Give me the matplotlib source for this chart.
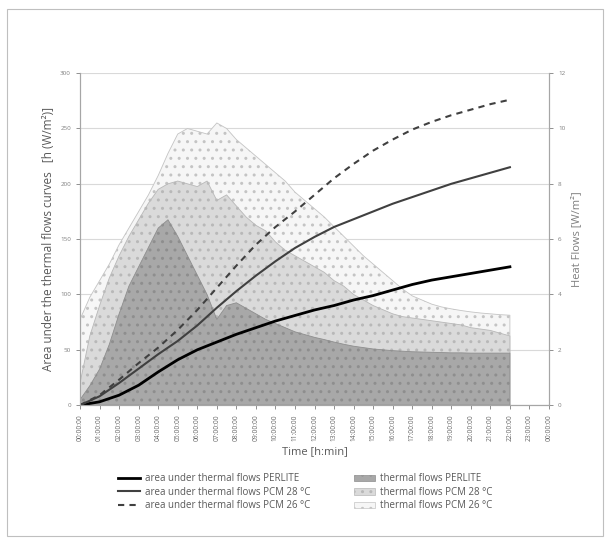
import numpy as np
import matplotlib as mpl
mpl.use('Agg')
from matplotlib import pyplot as plt
from matplotlib.patches import Patch, Rectangle
from matplotlib.lines import Line2D

mpl.rcParams['font.family'] = 'Open Sans'
mpl.rcParams['hatch.linewidth'] = 1.0

# hour index of x categories
hour_labels = ["%02d:00:00" % (h % 24) for h in range(25)]

# cumulative areas [h (W/m2)] read at each hour 0..22
cum_hours = list(range(23))
cum_perlite = [0, 3, 9, 18, 30, 41, 50, 57, 64, 70, 76, 81, 86, 90, 95, 99, 104, 109, 113, 116, 119, 122, 125]
cum_pcm28 = [0, 8, 20, 33, 46, 58, 72, 88, 103, 117, 130, 142, 152, 161, 168, 175, 182, 188, 194, 200, 205, 210, 215]
cum_pcm26 = [0, 9, 23, 38, 52, 68, 86, 106, 126, 145, 161, 175, 190, 205, 218, 230, 240, 249, 256, 262, 267, 272, 276]

# heat flows [W/m2] read every half hour 0..22
flow_hours = [i * 0.5 for i in range(45)]
flow_perlite = [0.2, 0.7, 1.3, 2.2, 3.3, 4.3, 5.0, 5.7, 6.4, 6.7, 6.1, 5.4, 4.7, 4.0, 3.1, 3.6,
                3.7, 3.5, 3.3, 3.1, 2.95, 2.8, 2.65, 2.55, 2.45, 2.37, 2.28, 2.2, 2.13, 2.08,
                2.03, 2.0, 1.97, 1.95, 1.93, 1.92, 1.91, 1.9, 1.89, 1.89, 1.88, 1.88, 1.88, 1.88, 1.88]
flow_pcm28 = [0.8, 2.5, 3.6, 4.6, 5.4, 6.1, 6.7, 7.3, 7.8, 8.0, 8.1, 8.0, 7.9, 8.1, 7.4, 7.6,
              7.2, 6.8, 6.5, 6.3, 5.9, 5.6, 5.4, 5.2, 5.0, 4.8, 4.5, 4.3, 4.0, 3.8,
              3.6, 3.45, 3.3, 3.2, 3.15, 3.1, 3.05, 3.0, 2.95, 2.9, 2.8, 2.75, 2.7, 2.6, 2.5]
flow_pcm26 = [3.1, 3.9, 4.5, 5.1, 5.8, 6.4, 7.0, 7.6, 8.3, 9.1, 9.8, 10.0, 9.9, 9.8, 10.2, 10.0,
              9.6, 9.3, 9.0, 8.7, 8.4, 8.1, 7.7, 7.4, 7.1, 6.8, 6.45, 6.1, 5.75, 5.4,
              5.1, 4.8, 4.5, 4.2, 3.95, 3.8, 3.65, 3.55, 3.48, 3.42, 3.37, 3.33, 3.3, 3.27, 3.25]

txt = '#595959'
fig = plt.figure(figsize=(6.11, 5.46), dpi=100)
fig.patches.append(Rectangle((0.012, 0.018), 0.975, 0.965, transform=fig.transFigure,
                             fill=False, edgecolor='#bfbfbf', lw=0.8))

ax = fig.add_axes([0.131, 0.258, 0.7675, 0.608])
ax2 = ax.twinx()
ax.set_zorder(ax2.get_zorder() + 1)
ax.patch.set_visible(False)

# heat flow areas on right axis
ax2.fill_between(flow_hours, flow_pcm26, color='#f6f6f6', edgecolor='#c4c4c4', hatch='..', lw=0.6, zorder=2)
ax2.fill_between(flow_hours, flow_pcm28, color='#dadada', edgecolor='#b8b8b8', hatch='..', lw=0.6, zorder=3)
ax2.fill_between(flow_hours, flow_perlite, color='#a8a8a8', edgecolor='#8e8e8e', hatch='..', lw=0.6, zorder=4)
ax2.set_ylim(0, 12)
ax2.set_yticks(range(0, 13, 2))
ax2.yaxis.grid(True, color='#d9d9d9', lw=0.8, zorder=0)
ax2.set_axisbelow(True)
ax2.set_ylabel("Heat Flows [W/m²]", color='#7f7f7f', fontsize=8)

# cumulative lines on left axis
ax.plot(cum_hours, cum_perlite, color='black', lw=2.0)
ax.plot(cum_hours, cum_pcm28, color='#404040', lw=1.5)
ax.plot(cum_hours, cum_pcm26, color='#404040', lw=1.5, ls=(0, (3, 2.5)))
ax.set_ylim(0, 300)
ax.set_yticks(range(0, 301, 50))
ax.set_xlim(0, 24)
ax.set_xticks(range(25))
ax.set_xticklabels(hour_labels, rotation=90)
ax.set_ylabel("Area under the thermal flows curves   [h (W/m²)]", color=txt, fontsize=8.5)
ax.set_xlabel("Time [h:min]", color=txt, fontsize=8)

for a in (ax, ax2):
    for s in a.spines.values():
        s.set_color('#a6a6a6')
    a.spines['top'].set_visible(False)
    a.tick_params(labelsize=4.5, colors='#7f7f7f', length=3, width=0.6)
ax.tick_params(axis='x', labelsize=4.8, labelcolor='#666666')

handles = [Line2D([], [], color='black', lw=2.0),
           Line2D([], [], color='#404040', lw=1.5),
           Line2D([], [], color='#404040', lw=1.5, ls=(0, (3, 2.5))),
           Patch(facecolor='#a8a8a8', edgecolor='#8e8e8e', hatch='..', lw=0.5),
           Patch(facecolor='#dadada', edgecolor='#b8b8b8', hatch='..', lw=0.5),
           Patch(facecolor='#f6f6f6', edgecolor='#c4c4c4', hatch='..', lw=0.5)]
labels = ["area under thermal flows PERLITE",
          "area under thermal flows PCM 28 °C",
          "area under thermal flows PCM 26 °C",
          "thermal flows PERLITE",
          "thermal flows PCM 28 °C",
          "thermal flows PCM 26 °C"]
leg = fig.legend(handles, labels, loc='upper center', bbox_to_anchor=(0.5, 0.14), ncol=2,
                 frameon=False, fontsize=7, labelspacing=0.25, columnspacing=4.5,
                 handlelength=2.2, handletextpad=0.5, borderaxespad=0)
for t in leg.get_texts():
    t.set_color(txt)

plt.savefig('out.png', dpi=100)
